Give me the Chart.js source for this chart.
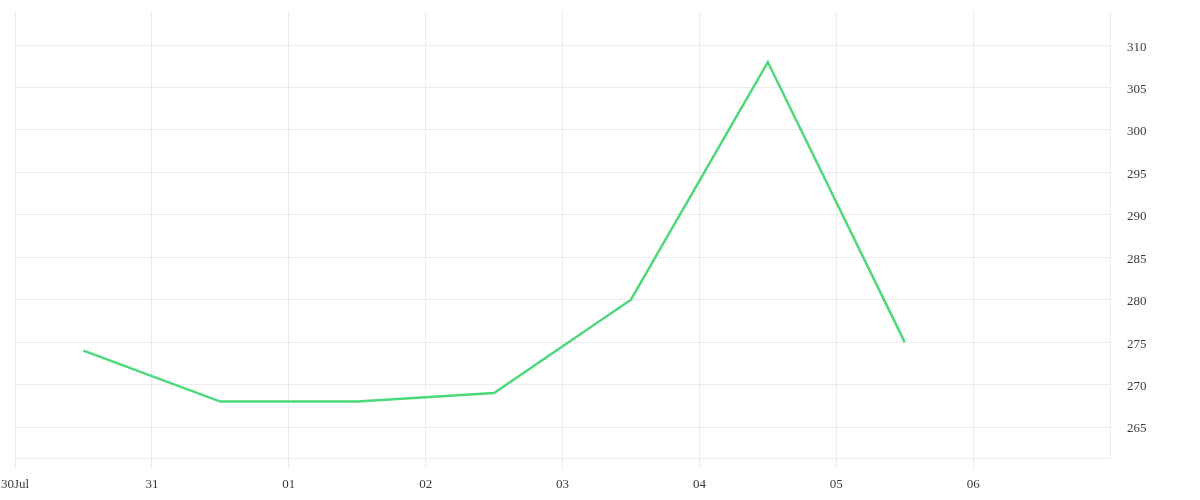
<!DOCTYPE html>
<html><head><meta charset="utf-8">
<script src="https://cdn.jsdelivr.net/npm/chart.js@4"></script>
<style>html,body{margin:0;padding:0;background:#fff}#wrap{width:1200px;height:500px}</style>
</head><body><div id="wrap"><canvas id="c"></canvas></div>
<script>
const tickLabels = ["30Jul","31","01","02","03","04","05","06"];
const dayPositions = [0.5,1.5,2.5,3.5,4.5,5.5,6.5];
const values = [274,268,268,269,280,308,275];

const pts = dayPositions.map((x,i)=>({x:x,y:values[i]}));
Chart.defaults.font.family = "'Liberation Serif', serif";
Chart.defaults.font.size = 13;
Chart.defaults.color = '#3a3a3a';
new Chart(document.getElementById('c'), {
  type:'line',
  data:{datasets:[{data:pts,borderColor:'rgb(76,217,123)',borderWidth:2.5,pointRadius:0,tension:0,fill:false}]},
  options:{
    responsive:true,maintainAspectRatio:false,animation:false,
    layout:{padding:{top:0,left:0,right:0,bottom:0}},
    plugins:{legend:{display:false},tooltip:{enabled:false}},
    scales:{
      x:{type:'linear',min:0,max:8,
        afterFit:s=>{s.height=42;s.paddingLeft=15;s.paddingRight=0;},
        afterBuildTicks:s=>{s.ticks=tickLabels.map((l,i)=>({value:i}));},
        ticks:{autoSkip:false,maxRotation:0,padding:9,callback:(v)=>tickLabels[v]??''},
        grid:{color:'#ececec',tickLength:10,drawOnChartArea:true},
        border:{color:'#ececec'}
      },
      y:{position:'right',min:261.35,max:313.9,
        afterFit:s=>{s.width=90;s.paddingTop=12;s.paddingBottom=0;},
        ticks:{stepSize:5,includeBounds:false,padding:17,labelOffset:2},
        grid:{color:'#ececec',drawTicks:false},
        border:{color:'#ececec'}
      }
    }
  }
});
</script></body></html>
